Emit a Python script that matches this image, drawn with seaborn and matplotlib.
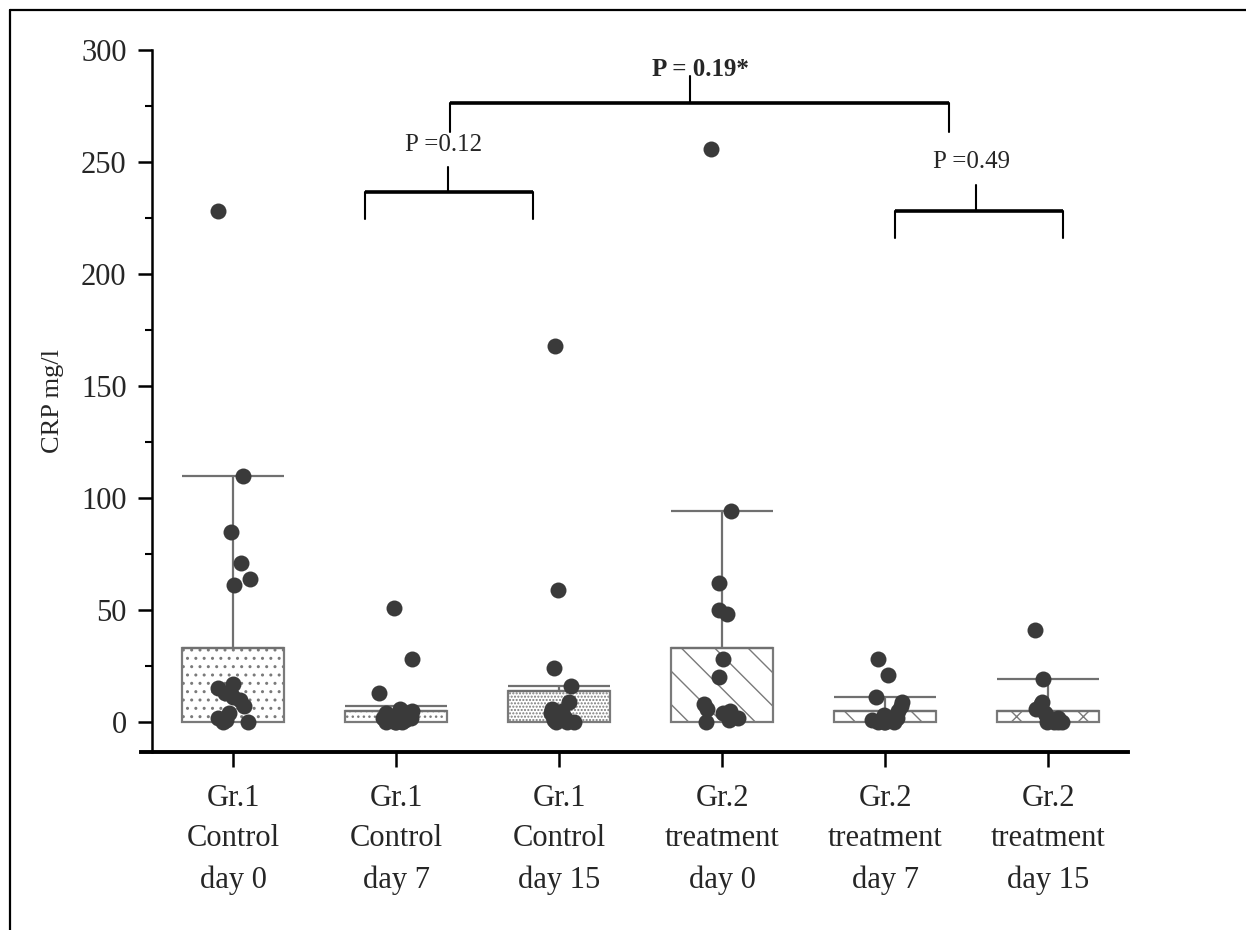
import numpy as np
import pandas as pd
import matplotlib
matplotlib.use("Agg")
import matplotlib.pyplot as plt
from matplotlib.lines import Line2D
import seaborn as sns

# ---------------- data ----------------
categories = ["Gr.1\nControl\nday 0", "Gr.1\nControl\nday 7", "Gr.1\nControl\nday 15",
              "Gr.2\ntreatment\nday 0", "Gr.2\ntreatment\nday 7", "Gr.2\ntreatment\nday 15"]
bar_values = [33, 5, 14, 33, 5, 5]
sd_values = [77, 2, 2, 61, 6, 14]
g1_day0 = [228, 110, 85, 71, 64, 61, 17, 15, 13, 11, 10, 7, 4, 2, 1, 0, 0]
g1_day7 = [51, 28, 13, 6, 5, 4, 3, 2, 2, 1, 1, 0, 0, 0, 0]
g1_day15 = [168, 59, 24, 16, 9, 6, 5, 4, 3, 2, 2, 1, 1, 0, 0, 0]
g2_day0 = [256, 94, 62, 50, 48, 28, 20, 8, 6, 5, 4, 3, 2, 1, 0]
g2_day7 = [28, 21, 11, 9, 7, 5, 3, 2, 1, 0, 0, 0, 0]
g2_day15 = [41, 19, 9, 8, 6, 4, 3, 2, 1, 1, 0, 0, 0, 0]
y_ticks = [0, 50, 100, 150, 200, 250, 300]
hatches = ["..", "...", ".....", "\\", "\\", "x"]
p_labels = ["P =0.12", "P = 0.19*", "P =0.49"]

# ---------------- style ----------------
sns.set_theme(style="white")
plt.rcParams["font.family"] = ["Liberation Serif", "DejaVu Serif"]
plt.rcParams["hatch.linewidth"] = 1.0

groups = [g1_day0, g1_day7, g1_day15, g2_day0, g2_day7, g2_day15]
points = pd.DataFrame({
    "group": np.repeat(categories, [len(g) for g in groups]),
    "crp": np.concatenate(groups),
})
bars = pd.DataFrame({"group": categories, "crp": bar_values})

fig = plt.figure(figsize=(12.46, 9.30), dpi=100)
ax = fig.add_axes([141 / 1246, 178 / 930, 987 / 1246, 702 / 930])

sns.barplot(data=bars, x="group", y="crp", order=categories, errorbar=None,
            color="white", edgecolor="#7a7a7a", linewidth=1.6, width=0.63,
            ax=ax, zorder=1)
for patch, h in zip(ax.patches, hatches):
    patch.set_hatch(h)
    patch.set_facecolor("white")
    patch.set_edgecolor("#7a7a7a")

xpos = np.arange(len(categories))
ax.errorbar(xpos, bar_values, yerr=[np.zeros(len(sd_values)), sd_values],
            fmt="none", ecolor="#707070", elinewidth=1.6, capsize=37,
            capthick=1.6, zorder=2)

np.random.seed(7)
sns.stripplot(data=points, x="group", y="crp", order=categories, jitter=0.11,
              size=11.5, color="#3a3a3a", linewidth=0, ax=ax, zorder=4)

# ---------------- axes ----------------
ax.set_xlim(-0.565, 5.49)
ax.set_ylim(-13.4, 300)
ax.set_yticks(y_ticks)
ax.set_yticks(np.arange(0, 301, 25), minor=True)
ax.set_xlabel("")
ax.set_ylabel("CRP mg/l", fontsize=19, labelpad=12)
for s in ["top", "right"]:
    ax.spines[s].set_visible(False)
ax.spines["left"].set_position(("data", -0.5))
ax.spines["left"].set_linewidth(1.8)
ax.spines["bottom"].set_linewidth(2.8)
ax.spines["left"].set_color("black")
ax.spines["bottom"].set_color("black")
ax.tick_params(axis="y", which="major", direction="out", length=10, width=1.8,
               labelsize=22, left=True, pad=8, color="black")
ax.tick_params(axis="y", which="minor", direction="out", length=5, width=1.5,
               left=True, color="black")
ax.tick_params(axis="x", direction="out", length=11, width=1.8, labelsize=22,
               bottom=True, pad=12, color="black")
for lab in ax.get_xticklabels():
    lab.set_linespacing(1.52)

# ---------------- significance brackets ----------------
def bracket(x1, x2, y, leg, stem, xs):
    ax.plot([x1, x2], [y, y], color="black", lw=2.6, clip_on=False, zorder=5,
            solid_capstyle="butt")
    ax.plot([x1, x1], [y, leg], color="black", lw=1.5, clip_on=False, zorder=5)
    ax.plot([x2, x2], [y, leg], color="black", lw=1.5, clip_on=False, zorder=5)
    ax.plot([xs, xs], [y, stem], color="black", lw=1.5, clip_on=False, zorder=5)

bracket(0.81, 1.84, 236.6, 224.6, 247.8, 1.32)
ax.text(1.29, 257.6, p_labels[0], ha="center", va="center", fontsize=18)
bracket(1.33, 4.39, 276.3, 263.4, 288.4, 2.80)
ax.text(2.87, 291.5, p_labels[1], ha="center", va="center", fontsize=18,
        fontweight="bold")
bracket(4.06, 5.09, 228.1, 216.0, 239.7, 4.56)
ax.text(4.53, 250.0, p_labels[2], ha="center", va="center", fontsize=18)

# figure frame (left and top edges)
fig.add_artist(Line2D([10 / 1246, 10 / 1246], [0, 1 - 10 / 930],
                      transform=fig.transFigure, color="black", lw=1.6))
fig.add_artist(Line2D([10 / 1246, 1], [1 - 10 / 930, 1 - 10 / 930],
                      transform=fig.transFigure, color="black", lw=1.6))

fig.savefig("out.png", dpi=100)
